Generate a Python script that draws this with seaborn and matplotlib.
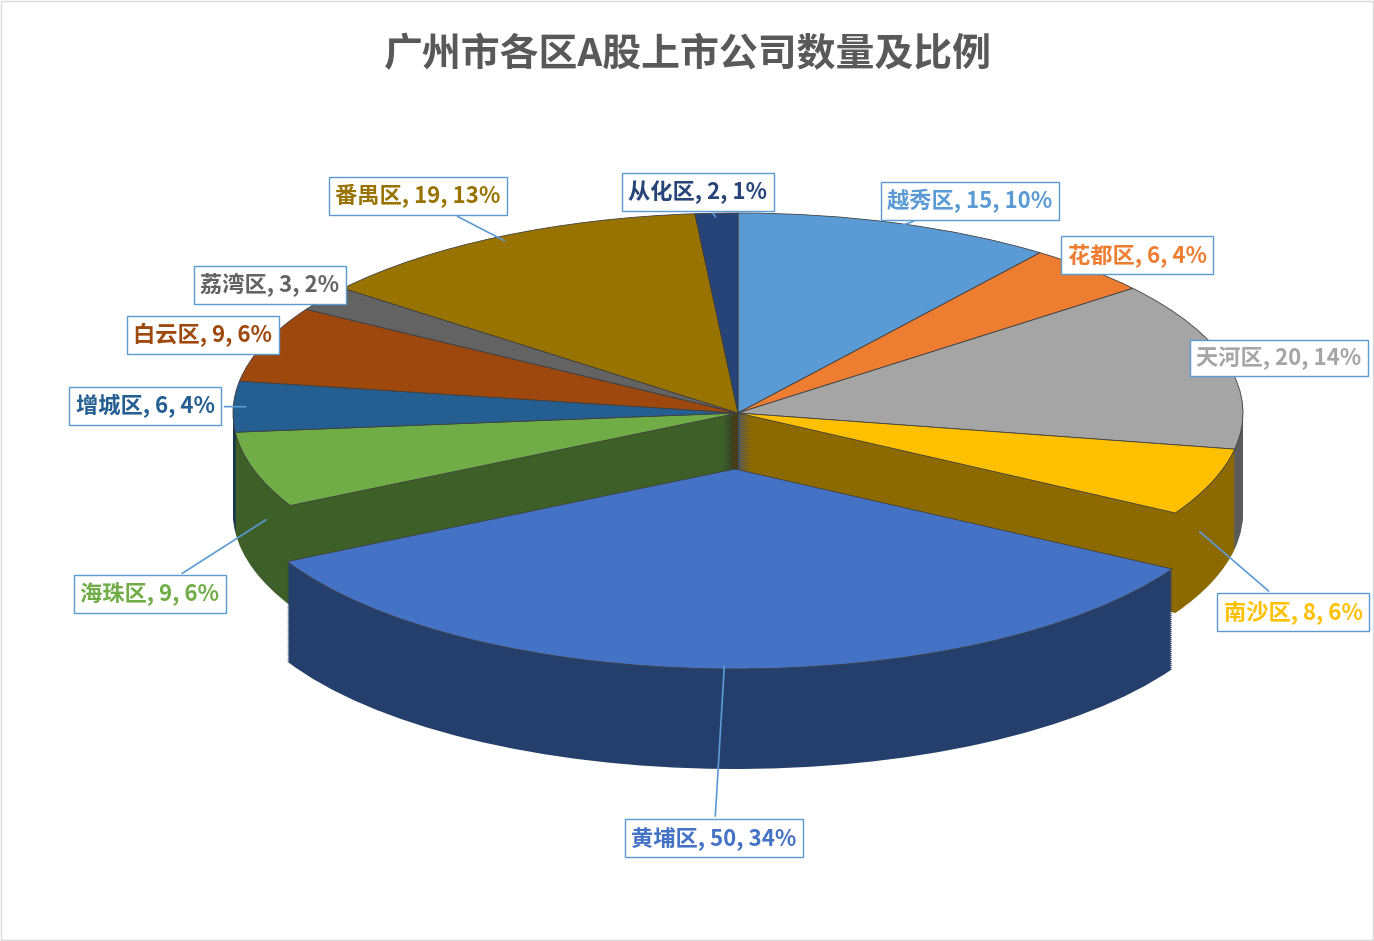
import matplotlib
matplotlib.use("Agg")
import matplotlib.pyplot as plt
import seaborn as sns
import numpy as np
from matplotlib.colors import to_rgb

sns.set_theme(style="white")
plt.rcParams['font.family'] = ['Noto Sans CJK SC', 'DejaVu Sans']

districts = ["越秀区", "花都区", "天河区", "南沙区", "黄埔区", "海珠区", "增城区", "白云区", "荔湾区", "番禺区", "从化区"]
counts = [15, 6, 20, 8, 50, 9, 6, 9, 3, 19, 2]
percents = ["10%", "4%", "14%", "6%", "34%", "6%", "4%", "6%", "2%", "13%", "1%"]
colors = ["#5B9BD5", "#ED7D31", "#A5A5A5", "#FFC000", "#4472C4", "#70AD47",
          "#255E91", "#9E480E", "#636363", "#997300", "#264478"]
label_colors = colors
# label box centres in pixels (layout)
label_px = [(970, 201), (1137, 255), (1279, 358), (1293, 612), (714, 838), (150, 594),
            (145, 406), (203, 335), (270, 285), (418, 196), (698, 192)]
explode = [0, 0, 0, 0, 0.28, 0, 0, 0, 0, 0, 0]

W, H = 1374, 941
cx, cy, rx, ry = 738, 413, 505, 200
fig = plt.figure(figsize=(W/100, H/100), dpi=100)
ax = fig.add_axes([0, 0, 1, 1])

def px(x, y):
    return ((x - cx) / rx, (cy - y) / ry)

depth = 0.5
nl = 50
dark = [tuple(np.array(to_rgb(c)) * 0.55) for c in colors]
for i in range(nl, 0, -1):
    d = depth * i / nl
    ax.pie(counts, colors=dark, startangle=90, counterclock=False, explode=explode,
           center=(0, -d), radius=1, wedgeprops=dict(linewidth=0))
wedges, _ = ax.pie(counts, colors=colors, startangle=90, counterclock=False, explode=explode,
                   center=(0, 0), radius=1,
                   wedgeprops=dict(linewidth=0.6, edgecolor="#404040"))
ax.set_aspect('auto')
ax.set_xlim(-cx / rx, (W - cx) / rx)
ax.set_ylim(-(H - cy) / ry, cy / ry)
ax.axis('off')

for w, name, c, p, lc, pos, e in zip(wedges, districts, counts, percents, label_colors, label_px, explode):
    ang = np.deg2rad((w.theta1 + w.theta2) / 2)
    r = 0.97
    ex, ey = np.cos(ang) * (r + e), np.sin(ang) * (r + e)
    if ey < 0 and e == 0:
        ey -= depth * 0.5
    tx, ty = px(*pos)
    ax.annotate(f"{name}, {c}, {p}", xy=(ex, ey), xytext=(tx, ty),
                ha='center', va='center', fontsize=16, fontweight='bold', color=lc,
                bbox=dict(boxstyle='square,pad=0.3', fc='white', ec='#5B9BD5', lw=1),
                arrowprops=dict(arrowstyle='-', color='#5B9BD5', lw=1.2))

fig.text(688 / W, 1 - 55 / H, "广州市各区A股上市公司数量及比例", ha='center', va='center',
         fontsize=28, fontweight='bold', color='#595959')
fig.patches.append(plt.Rectangle((0.001, 0.001), 0.998, 0.998, transform=fig.transFigure,
                                 fill=False, ec='#D9D9D9', lw=1))
fig.savefig("out.png", dpi=100, facecolor='white')
